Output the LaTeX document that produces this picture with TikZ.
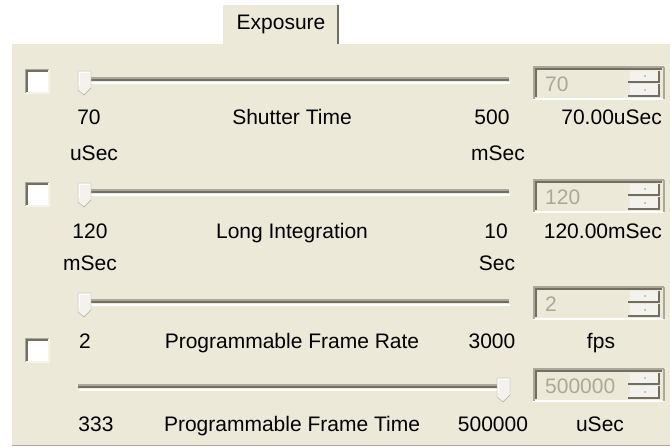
\documentclass[tikz,border=0pt]{standalone}
\usepackage{fontspec}
\setmainfont{Liberation Sans}
\usepackage{xcolor}
\definecolor{panel}{HTML}{ECE9D8}
\definecolor{edgegray}{HTML}{ACA899}
\definecolor{edgedark}{HTML}{716F64}
\definecolor{knob}{HTML}{F3F2EC}

\begin{document}
\begin{tikzpicture}[x=1pt,y=-1pt,
        every node/.style={font=\fontsize{21}{25}\selectfont,inner sep=0pt},
        lbl/.style={anchor=base},
        lblr/.style={anchor=base east},
        dim/.style={anchor=base west,text=edgegray},
        hi/.style={draw=white,line width=1.5pt},
        lo/.style={draw=edgegray,line width=2pt},
        lodark/.style={draw=edgedark,line width=2pt}]
        \useasboundingbox[fill=white] (0,0) rectangle (670,447);
        % panel and tab
        \fill[panel] (12,44) rectangle (670,445);
        \draw[edgegray] (12,445.5) -- (670,445.5);
        \fill[panel] (222,4) rectangle (338,45);
        \draw[white,line width=1pt] (222.5,44) -- (222.5,4.5) -- (337,4.5);
        \draw[edgedark,line width=1.5pt] (338,5) -- (338,44);
        \node[lbl] (tab) at (281,29) {Exposure};
        % checkboxes
        \foreach \cy in {69,182,338} {
            \fill[white] (25,\cy) rectangle (49,\cy+24);
            \draw[hi,draw=panel!50!white] (25,\cy+24) -- (49,\cy+24) -- (49,\cy);
            \draw[lo,line width=1.5pt] (25.5,\cy+24) -- (25.5,\cy+0.5) -- (49,\cy+0.5);
            \draw[lodark,line width=1.5pt] (27,\cy+22.5) -- (27,\cy+2) -- (47.5,\cy+2);
        }
        % sliders
        \foreach \ty/\tx in {80/78,192/78,302/78,387/497} {
            \draw[lo] (78,\ty-2) -- (509,\ty-2);
            \draw[lodark] (78,\ty) -- (509,\ty);
            \draw[hi] (79,\ty+3) -- (510,\ty+3);
            \draw[edgegray,fill=knob] (\tx,\ty-9) -- ++(13,0) -- ++(0,17) -- ++(-7,7) -- ++(-6,-5) -- cycle;
            \draw[white,line width=1pt] (\tx+1,\ty+6) -- (\tx+1,\ty-8) -- (\tx+12,\ty-8);
        }
        % spin boxes
        \foreach \sy/\sv in {66/70,179/120,286/2,368/500000} {
            \fill[panel] (533,\sy) rectangle (664,\sy+33);
            \draw[hi] (533,\sy+33) -- (664,\sy+33);
            \draw[lo] (664,\sy+33) -- (664,\sy+1);
            \draw[lo] (534,\sy+33) -- (534,\sy+1) -- (664,\sy+1);
            \draw[lodark] (536,\sy+31) -- (536,\sy+3) -- (662,\sy+3);
            \fill[knob] (630,\sy+5) rectangle (659,\sy+15);
            \fill[knob] (630,\sy+18) rectangle (659,\sy+29);
            \draw[lodark] (628,\sy+16) -- (659,\sy+16) -- (659,\sy+5);
            \draw[lodark] (628,\sy+30) -- (659,\sy+30) -- (659,\sy+18);
            \fill[edgegray] (645,\sy+10) circle (1);
            \fill[edgegray] (645,\sy+24) circle (1);
            \node[dim] (spin\sv) at (545,\sy+25) {\sv};
        }
        % shutter time
        \node[lbl] (min1) at (89,124) {70};
        \node[lbl] (unit1) at (94,160) {uSec};
        \node[lbl] (name1) at (292,124) {Shutter Time};
        \node[lbl] (max1) at (492,124) {500};
        \node[lbl] (maxu1) at (498,160) {mSec};
        \node[lblr] (val1) at (662,124) {70.00uSec};
        % long integration
        \node[lbl] (min2) at (90,238) {120};
        \node[lbl] (unit2) at (90,270) {mSec};
        \node[lbl] (name2) at (292,238) {Long Integration};
        \node[lbl] (max2) at (496,238) {10};
        \node[lbl] (maxu2) at (497,270) {Sec};
        \node[lblr] (val2) at (662,238) {120.00mSec};
        % frame rate
        \node[lbl] (min3) at (85,348) {2};
        \node[lbl] (name3) at (292,348) {Programmable Frame Rate};
        \node[lbl] (max3) at (492,348) {3000};
        \node[lbl] (val3) at (601,348) {fps};
        % frame time
        \node[lbl] (min4) at (96,431) {333};
        \node[lbl] (name4) at (292,431) {Programmable Frame Time};
        \node[lbl] (max4) at (493,431) {500000};
        \node[lbl] (val4) at (600,431) {uSec};
    \end{tikzpicture}
\end{document}
